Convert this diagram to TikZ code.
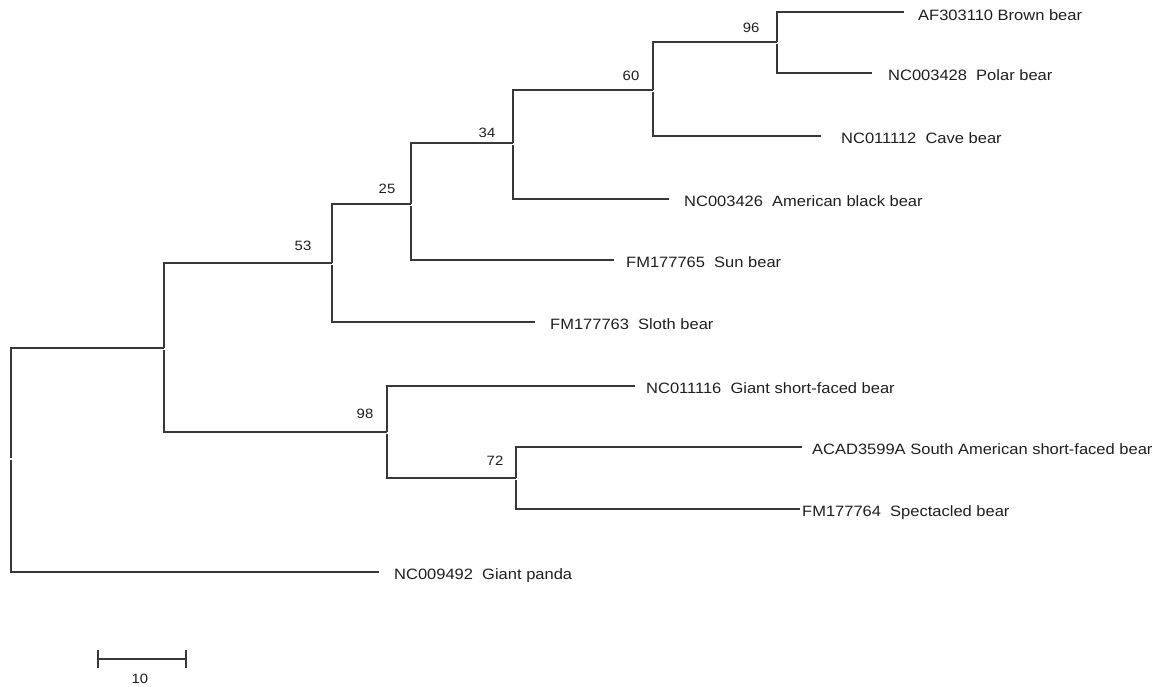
\documentclass[tikz,border=0pt]{standalone}
\usepackage{fontspec}
\setmainfont{Liberation Sans}[FakeStretch=1.1]
\begin{document}
\begin{tikzpicture}[x=1pt,y=-1pt,
  branch/.style={draw=black!78, line width=1.2pt},
  taxon/.style={anchor=base west, inner sep=0pt, text=black!88,
                font=\fontsize{15}{15}\selectfont},
  boot/.style={anchor=center, inner sep=0pt, text=black!88,
               font=\fontsize{13.5}{13.5}\selectfont}]
\useasboundingbox (0,0) rectangle (1175,686);

% internal nodes (x = depth, y = join point)
\coordinate (r)   at (11,458);
\coordinate (n1)  at (164,348);
\coordinate (n53) at (332,263);
\coordinate (n25) at (411,204);
\coordinate (n34) at (513,143);
\coordinate (n60) at (653,90);
\coordinate (n96) at (777,42);
\coordinate (n98) at (387,432);
\coordinate (n72) at (516,478);

% branch tips
\coordinate (tBrown) at (904,12);
\coordinate (tPolar) at (872,73);
\coordinate (tCave)  at (821,136);
\coordinate (tBlack) at (669,199);
\coordinate (tSun)   at (614,260);
\coordinate (tSloth) at (535,322);
\coordinate (tGsf)   at (635,386);
\coordinate (tAcad)  at (802,447);
\coordinate (tSpec)  at (800,509);
\coordinate (tPanda) at (379,572);

% taxon labels
\node[taxon] (lBrown) at (918,20.5) {AF303110 Brown bear};
\node[taxon] (lPolar) at (888,80.5) {NC003428\ \ Polar bear};
\node[taxon] (lCave)  at (841,143.5) {NC011112\ \ Cave bear};
\node[taxon] (lBlack) at (684,206.5) {NC003426\ \ American black bear};
\node[taxon] (lSun)   at (626,267.5) {FM177765\ \ Sun bear};
\node[taxon] (lSloth) at (550,329.5) {FM177763\ \ Sloth bear};
\node[taxon] (lGsf)   at (646,393.5) {NC011116\ \ Giant short-faced bear};
\node[taxon] (lAcad)  at (812,454.5) {ACAD3599A South American short-faced bear};
\node[taxon] (lSpec)  at (802,516.5) {FM177764\ \ Spectacled bear};
\node[taxon] (lPanda) at (394,579.5) {NC009492\ \ Giant panda};

% branches: upper child from the join point, lower child just below it
\draw[branch] (r) |- (n1);
\draw[branch] ([yshift=-2pt]r) |- (tPanda);
\draw[branch] (n1) |- (n53);
\draw[branch] ([yshift=-1.5pt]n1) |- (n98);
\draw[branch] (n53) |- (n25);
\draw[branch] ([yshift=-1.5pt]n53) |- (tSloth);
\draw[branch] (n25) |- (n34);
\draw[branch] ([yshift=-1.5pt]n25) |- (tSun);
\draw[branch] (n34) |- (n60);
\draw[branch] ([yshift=-1.5pt]n34) |- (tBlack);
\draw[branch] (n60) |- (n96);
\draw[branch] ([yshift=-1.5pt]n60) |- (tCave);
\draw[branch] (n96) |- (tBrown);
\draw[branch] ([yshift=-1.5pt]n96) |- (tPolar);
\draw[branch] (n98) |- (tGsf);
\draw[branch] ([yshift=-1.5pt]n98) |- (n72);
\draw[branch] (n72) |- (tAcad);
\draw[branch] ([yshift=-1.5pt]n72) |- (tSpec);

% bootstrap support values
\node[boot] (b53) at (303,246) {53};
\node[boot] (b25) at (387,189) {25};
\node[boot] (b34) at (487,133) {34};
\node[boot] (b60) at (631,76) {60};
\node[boot] (b96) at (751,28) {96};
\node[boot] (b98) at (365,414) {98};
\node[boot] (b72) at (495,461) {72};

% scale bar
\coordinate (sL) at (98,659);
\coordinate (sR) at (186,659);
\draw[branch] (sL) -- (sR);
\draw[branch] ([yshift=9pt]sL) -- ([yshift=-9pt]sL);
\draw[branch] ([yshift=9pt]sR) -- ([yshift=-9pt]sR);
\node[boot] (sLab) at (140,679) {10};
\end{tikzpicture}
\end{document}
